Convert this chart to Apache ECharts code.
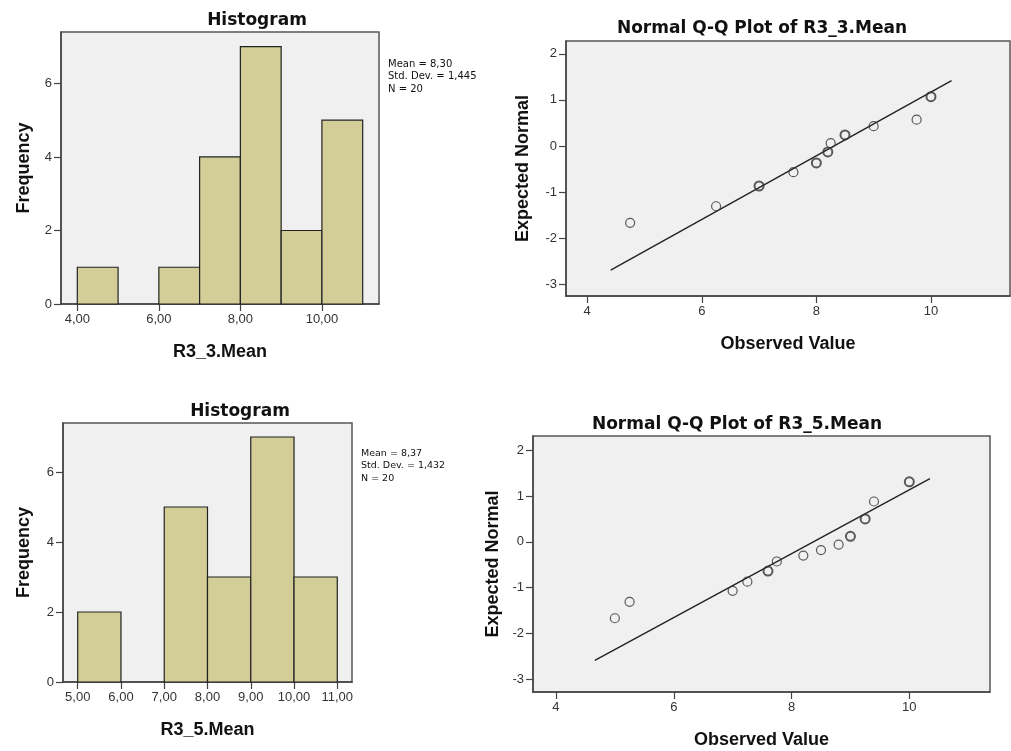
<!DOCTYPE html>
<html>
<head>
<meta charset="utf-8">
<title>Histograms and Normal Q-Q plots</title>
<script src="https://cdn.jsdelivr.net/npm/echarts@6/dist/echarts.min.js"></script>
<style>
  html, body { margin: 0; padding: 0; background: #fff; }
  #main { width: 1011px; height: 751px; }
</style>
</head>
<body>
<div id="main"></div>
<script>
// R3_3.Mean histogram (bin edges and frequencies)
var hist1Edges = [4, 5, 6, 7, 8, 9, 10, 11];
var hist1Counts = [1, 0, 1, 4, 7, 2, 5];
var hist1Ticks = [4, 6, 8, 10];
var stats1 = ['Mean = 8,30', 'Std. Dev. = 1,445', 'N = 20'];

// R3_3.Mean Q-Q points (observed, expected normal, how many tied cases)
var qq1Observed = [4.75, 6.25, 7.0, 7.6, 8.0, 8.2, 8.25, 8.5, 9.0, 9.75, 10.0];
var qq1Expected = [-1.67, -1.31, -0.87, -0.57, -0.37, -0.13, 0.06, 0.24, 0.43, 0.57, 1.07];
var qq1Ties = [1, 1, 3, 1, 2, 2, 1, 2, 1, 1, 5];
var qq1LineX = [4.41, 10.36];
var qq1LineY = [-2.70, 1.42];

// R3_5.Mean histogram
var hist2Edges = [5, 6, 7, 8, 9, 10, 11];
var hist2Counts = [2, 0, 5, 3, 7, 3];
var hist2Ticks = [5, 6, 7, 8, 9, 10, 11];
var stats2 = ['Mean = 8,37', 'Std. Dev. = 1,432', 'N = 20'];

// R3_5.Mean Q-Q points
var qq2Observed = [5.0, 5.25, 7.0, 7.25, 7.6, 7.75, 8.2, 8.5, 8.8, 9.0, 9.25, 9.4, 10.0];
var qq2Expected = [-1.67, -1.31, -1.07, -0.87, -0.64, -0.43, -0.30, -0.18, -0.06, 0.12, 0.50, 0.88, 1.31];
var qq2Ties = [1, 1, 1, 1, 2, 1, 1, 1, 1, 2, 4, 1, 3];
var qq2LineX = [4.66, 10.35];
var qq2LineY = [-2.59, 1.38];

var qqXTicks = [4, 6, 8, 10];
var qqYTicks = [-3, -2, -1, 0, 1, 2];
var freqTicks = [0, 2, 4, 6];

var BAR = '#d3ce97';
var AXIS = '#444';
var LABEL_FONT = 'Liberation Sans, Arial, sans-serif';
var TITLE_FONT = 'DejaVu Sans, sans-serif';

function comma(v) { return v.toFixed(2).replace('.', ','); }

function grid(l, t, w, h) {
    return { left: l, top: t, width: w, height: h, show: true,
        backgroundColor: '#f0f0f0', borderColor: '#555', borderWidth: 1.5 };
}

// value axis with fixed tick positions; margin is counted from the axis line
function axis(idx, min, max, ticks, fmt, name, gap, margin) {
    return {
        type: 'value', gridIndex: idx, min: min, max: max,
        name: name, nameLocation: 'middle', nameGap: gap,
        nameTextStyle: { fontFamily: LABEL_FONT, fontWeight: 'bold', fontSize: 18, color: '#111' },
        axisLine: { show: true, onZero: false, lineStyle: { color: AXIS, width: 1.5 } },
        axisTick: { show: true, inside: false, length: 7, customValues: ticks,
            lineStyle: { color: AXIS, width: 1.2 } },
        axisLabel: { customValues: ticks, formatter: fmt, margin: margin,
            fontFamily: LABEL_FONT, fontSize: 13, color: '#333' },
        splitLine: { show: false }
    };
}

function histSeries(edges, counts, idx) {
    var data = [];
    counts.forEach(function (c, i) {
        if (c > 0) data.push([edges[i], edges[i + 1], c]);
    });
    return {
        type: 'custom', xAxisIndex: idx, yAxisIndex: idx, data: data,
        encode: { x: [0, 1], y: 2 },
        renderItem: function (params, api) {
            var p0 = api.coord([api.value(0), api.value(2)]);
            var p1 = api.coord([api.value(1), 0]);
            return { type: 'rect',
                shape: { x: p0[0], y: p0[1], width: p1[0] - p0[0], height: p1[1] - p0[1] },
                style: { fill: BAR, stroke: '#222', lineWidth: 1.2 } };
        }
    };
}

function qqSeries(obs, exp, ties, idx) {
    return {
        type: 'scatter', xAxisIndex: idx, yAxisIndex: idx, symbol: 'circle', symbolSize: 9,
        z: 3,
        data: obs.map(function (x, i) {
            return { value: [x, exp[i]],
                itemStyle: { color: 'rgba(0,0,0,0)', borderColor: '#333', borderWidth: ties[i] > 1 ? 2 : 1.2 } };
        })
    };
}

function lineSeries(lx, ly, idx) {
    return {
        type: 'line', xAxisIndex: idx, yAxisIndex: idx, symbol: 'none', z: 2,
        lineStyle: { color: '#222', width: 1.4 },
        data: lx.map(function (x, i) { return [x, ly[i]]; })
    };
}

function statsText(lines, x, y, size) {
    return { type: 'text', left: x, top: y,
        style: { text: lines.join('\n'), fontFamily: TITLE_FONT, fontSize: size, lineHeight: 12.5, fill: '#111' } };
}

function title(text, cx, top) {
    return { text: text, left: cx, top: top, textAlign: 'center',
        textStyle: { fontFamily: TITLE_FONT, fontWeight: 'bold', fontSize: 17, color: '#111' } };
}

var chart = echarts.init(document.getElementById('main'));
var intFmt = function (v) { return String(v); };

var option = {
    backgroundColor: '#fff',
    animation: false,
    title: [
        title('Histogram', 252, 7),
        title('Normal Q-Q Plot of R3_3.Mean', 757, 15),
        title('Histogram', 235, 398),
        title('Normal Q-Q Plot of R3_5.Mean', 732, 411)
    ],
    grid: [
        grid(61, 32, 318, 272),
        grid(566, 41, 444, 255),
        grid(63, 423, 289, 259),
        grid(533, 436, 457, 256)
    ],
    xAxis: [
        axis(0, 3.6, 11.4, hist1Ticks, comma, 'R3_3.Mean', 39, 9),
        axis(1, 3.63, 11.38, qqXTicks, intFmt, 'Observed Value', 39, 9),
        axis(2, 4.66, 11.34, hist2Ticks, comma, 'R3_5.Mean', 39, 9),
        axis(3, 3.61, 11.37, qqXTicks, intFmt, 'Observed Value', 39, 9)
    ],
    yAxis: [
        axis(0, 0, 7.4, freqTicks, intFmt, 'Frequency', 28, 9),
        axis(1, -3.26, 2.28, qqYTicks, intFmt, 'Expected Normal', 34, 9),
        axis(2, 0, 7.4, freqTicks, intFmt, 'Frequency', 30, 9),
        axis(3, -3.28, 2.31, qqYTicks, intFmt, 'Expected Normal', 31, 9)
    ],
    series: [
        histSeries(hist1Edges, hist1Counts, 0),
        lineSeries(qq1LineX, qq1LineY, 1),
        qqSeries(qq1Observed, qq1Expected, qq1Ties, 1),
        histSeries(hist2Edges, hist2Counts, 2),
        lineSeries(qq2LineX, qq2LineY, 3),
        qqSeries(qq2Observed, qq2Expected, qq2Ties, 3)
    ],
    graphic: [
        statsText(stats1, 388, 58, 10),
        statsText(stats2, 361, 447, 9.5)
    ]
};
chart.setOption(option);
</script>
</body>
</html>
